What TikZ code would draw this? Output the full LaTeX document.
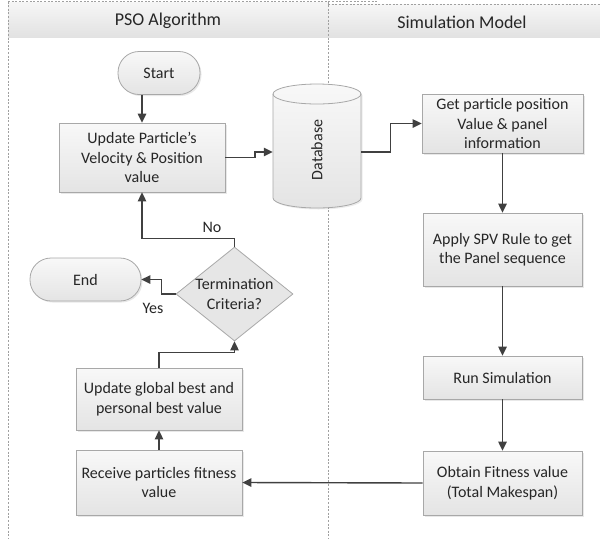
\documentclass[tikz,border=0pt]{standalone}
\usepackage{fontspec}
\setmainfont{Carlito}
\usetikzlibrary{arrows.meta,shapes.geometric,shadows,calc}
\definecolor{linegray}{HTML}{404040}
\definecolor{edgegray}{HTML}{A8A8A8}
\definecolor{lanegray}{HTML}{A0A0A0}
\definecolor{inkgray}{HTML}{262626}
\definecolor{boxtop}{HTML}{F8F8F8}
\definecolor{boxbot}{HTML}{E4E4E4}
\definecolor{headtop}{HTML}{F6F6F6}
\definecolor{headbot}{HTML}{E2E2E2}
\definecolor{diamfill}{HTML}{E6E6E6}
\begin{document}
\begin{tikzpicture}[x=1pt,y=-1pt,
  font=\fontsize{16}{19.5}\selectfont,
  procbox/.style={draw=edgegray, line width=0.8pt, top color=boxtop, bottom color=boxbot,
    text=inkgray, align=center, inner sep=2pt,
    drop shadow={shadow xshift=1.5pt, shadow yshift=-1.5pt, opacity=0.18}},
  terminal/.style={procbox, rounded corners=21pt},
  decision/.style={diamond, draw=edgegray, line width=0.8pt, fill=diamfill, inner sep=0pt},
  conn/.style={draw=linegray, line width=1.4pt, -{Triangle[length=9pt,width=8.5pt]}},
  lane/.style={draw=lanegray, line width=0.7pt, dash pattern=on 2pt off 1.6pt},
  lanetitle/.style={text=inkgray, font=\fontsize{18}{22}\selectfont},
  tag/.style={text=inkgray}]

\useasboundingbox (0,0) rectangle (600,539);

% swimlane headers
\shade[top color=headtop, bottom color=headbot] (8,2) rectangle (328,37);
\shade[top color=headtop, bottom color=headbot] (328,4.5) rectangle (600,37);
\node[lanetitle] (psohead) at (168,21) {PSO Algorithm};
\node[lanetitle] (simhead) at (462,22) {Simulation Model};

% swimlane borders
\draw[lane] (8,1.5) -- (378,1.5);
\draw[lane] (328,4.5) -- (600,4.5);
\draw[lane] (8,1.5) -- (8,539);
\draw[lane] (328,1.5) -- (328,539);

% PSO lane
\node[terminal, minimum width=82pt, minimum height=43pt] (start) at (159,73) {Start};
\node[procbox, minimum width=166pt, minimum height=69pt] (upd) at (142,157.5)
  {Update Particle’s\\Velocity \& Position\\value};
\node[decision, minimum width=117pt, minimum height=94pt,
  label={[tag, align=center]center:Termination\\Criteria?}] (term) at (234.5,294) {};
\node[terminal, minimum width=111pt, minimum height=43pt] (end) at (85.5,279.5) {End};
\node[procbox, minimum width=166pt, minimum height=62pt] (glob) at (159,399)
  {Update global best and\\personal best value};
\node[procbox, minimum width=166pt, minimum height=65pt] (recv) at (159,482.5)
  {Receive particles fitness\\value};

% database cylinder
\node[minimum width=88pt, minimum height=124pt, inner sep=0pt] (db) at (317,146) {};
\path[drop shadow={shadow xshift=1.5pt, shadow yshift=-1.5pt, opacity=0.15},
      top color=boxtop, bottom color=boxbot]
  (273,94) -- (273,198)
  arc[start angle=180, end angle=0, x radius=44, y radius=10]
  -- (361,94)
  arc[start angle=0, end angle=-180, x radius=44, y radius=10] -- cycle;
\draw[edgegray, line width=0.8pt]
  (273,94) -- (273,198)
  arc[start angle=180, end angle=0, x radius=44, y radius=10]
  -- (361,94)
  arc[start angle=0, end angle=-180, x radius=44, y radius=10] -- cycle;
\draw[edgegray, line width=0.8pt] (273,94) arc[start angle=180, end angle=0, x radius=44, y radius=10];
\node[rotate=90, text=inkgray] (dbtext) at ($(db.center)+(0,4)$) {Database};

% simulation lane
\node[procbox, minimum width=161pt, minimum height=59pt] (get) at (502.5,123.5)
  {Get particle position\\Value \& panel\\information};
\node[procbox, minimum width=159pt, minimum height=73pt] (apply) at (502.5,249.5)
  {Apply SPV Rule to get\\the Panel sequence};
\node[procbox, minimum width=159pt, minimum height=43pt] (run) at (502.5,377.5)
  {Run Simulation};
\node[procbox, minimum width=159pt, minimum height=64pt] (obtain) at (502.5,483)
  {Obtain Fitness value\\(Total Makespan)};

% connectors
\draw[conn] (upd.north |- start.south) -- (upd.north);
\draw[conn] (upd.east) -| ($(db.west)+(-18,6)$) -- ($(db.west)+(0,6)$);
\draw[conn] ($(db.east)+(0,6)$) -- ++(29,0) |- (get.west);
\draw[conn] (get.south) -- (apply.north);
\draw[conn] (apply.south) -- (run.north);
\draw[conn] (run.south) -- (obtain.north);
\draw[conn] (obtain.west) -- (recv.east);
\draw[conn] (recv.north) -- (glob.south);
\draw[conn] (glob.north) -- ++(0,-15) -| (term.south);
\draw[conn] (term.north) -- ++(0,-8) -| (upd.south);
\draw[conn] (term.west) -- ++(-14,0) |- (end.east);

% branch labels
\node[tag] (nolbl) at (212,227) {No};
\node[tag] (yeslbl) at (153,308) {Yes};

\end{tikzpicture}
\end{document}
